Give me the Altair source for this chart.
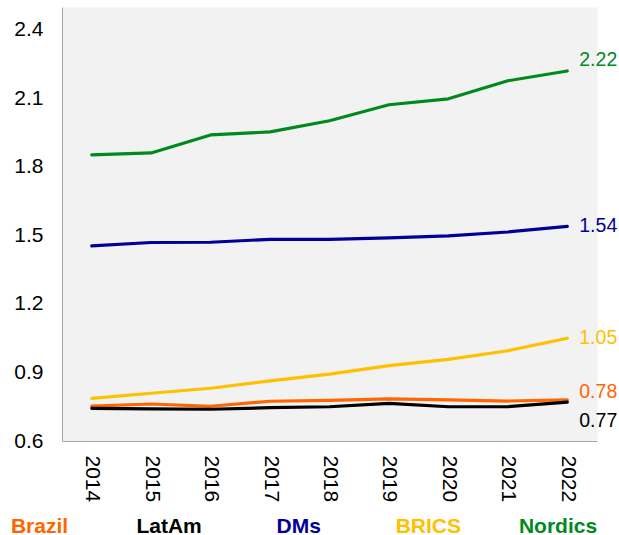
import altair as alt
import pandas as pd

years = [2014, 2015, 2016, 2017, 2018, 2019, 2020, 2021, 2022]
series_names = ["Brazil", "LatAm", "DMs", "BRICS", "Nordics"]
series_colors = ["#FF6600", "#000000", "#000099", "#FFC000", "#008A1E"]

brazil = [0.753, 0.762, 0.752, 0.774, 0.778, 0.784, 0.780, 0.775, 0.78]
latam = [0.743, 0.741, 0.739, 0.746, 0.750, 0.765, 0.750, 0.750, 0.77]
dms = [1.454, 1.469, 1.470, 1.483, 1.483, 1.489, 1.498, 1.515, 1.54]
brics = [0.787, 0.809, 0.831, 0.863, 0.893, 0.930, 0.957, 0.995, 1.05]
nordics = [1.853, 1.861, 1.940, 1.953, 2.002, 2.072, 2.098, 2.177, 2.22]

y_ticks = [0.6, 0.9, 1.2, 1.5, 1.8, 2.1, 2.4]

rows = []
for name, vals in zip(series_names, [brazil, latam, dms, brics, nordics]):
    for yr, v in zip(years, vals):
        rows.append({"year": yr, "series": name, "value": v})
df = pd.DataFrame(rows)
last = df[df["year"] == years[-1]]
legend_df = pd.DataFrame({"series": series_names})

axis_gray = "#a6a6a6"
color_scale = alt.Scale(domain=series_names, range=series_colors)
color_enc = alt.Color("series:N", scale=color_scale, legend=None)

x_enc = alt.X(
    "year:O",
    scale=alt.Scale(type="point", padding=0.5),
    axis=alt.Axis(title=None, labelAngle=90, labelPadding=14, ticks=False,
                  domainColor=axis_gray, labelFontSize=21, labelColor="#000000",
                  grid=False),
)
y_enc = alt.Y(
    "value:Q",
    scale=alt.Scale(domain=[0.6, 2.5], nice=False, zero=False),
    axis=alt.Axis(title=None, values=y_ticks, format=".1f", ticks=False,
                  labelPadding=19, labelFontSize=21, labelColor="#000000",
                  grid=False, domainColor=axis_gray),
)

lines = alt.Chart(df).mark_line(strokeWidth=3.2, strokeCap="round", strokeJoin="round").encode(
    x=x_enc, y=y_enc, color=color_enc
)

label_dy = {"Brazil": -8, "LatAm": 19, "DMs": 0, "BRICS": 0, "Nordics": -11}
labels = []
for name in series_names:
    labels.append(
        alt.Chart(last)
        .transform_filter(alt.datum.series == name)
        .mark_text(align="left", baseline="middle", dx=12, dy=label_dy[name], fontSize=19.5)
        .encode(x=x_enc, y=y_enc, text=alt.Text("value:Q", format=".2f"), color=color_enc)
    )

legend = alt.Chart(legend_df).mark_text(
    fontSize=21, fontWeight="bold", baseline="alphabetic", align="center"
).encode(
    x=alt.X("series:N", sort=series_names,
            scale=alt.Scale(type="point", domain=series_names, range=[-22.5, 496], padding=0),
            axis=None),
    y=alt.value(526),
    text="series:N",
    color=color_enc,
)

chart = (
    alt.layer(alt.layer(lines, *labels), legend)
    .resolve_scale(x="independent")
    .properties(
        width=535,
        height=434,
        autosize=alt.AutoSizeParams(type="none"),
        padding={"left": 62, "top": 7, "right": 22, "bottom": 94},
        background="#ffffff",
    )
    .configure(font="Liberation Sans")
    .configure_view(fill="#f2f2f2", stroke="transparent")
)

chart.save("out.html", embed_options={"renderer": "svg", "actions": False})
